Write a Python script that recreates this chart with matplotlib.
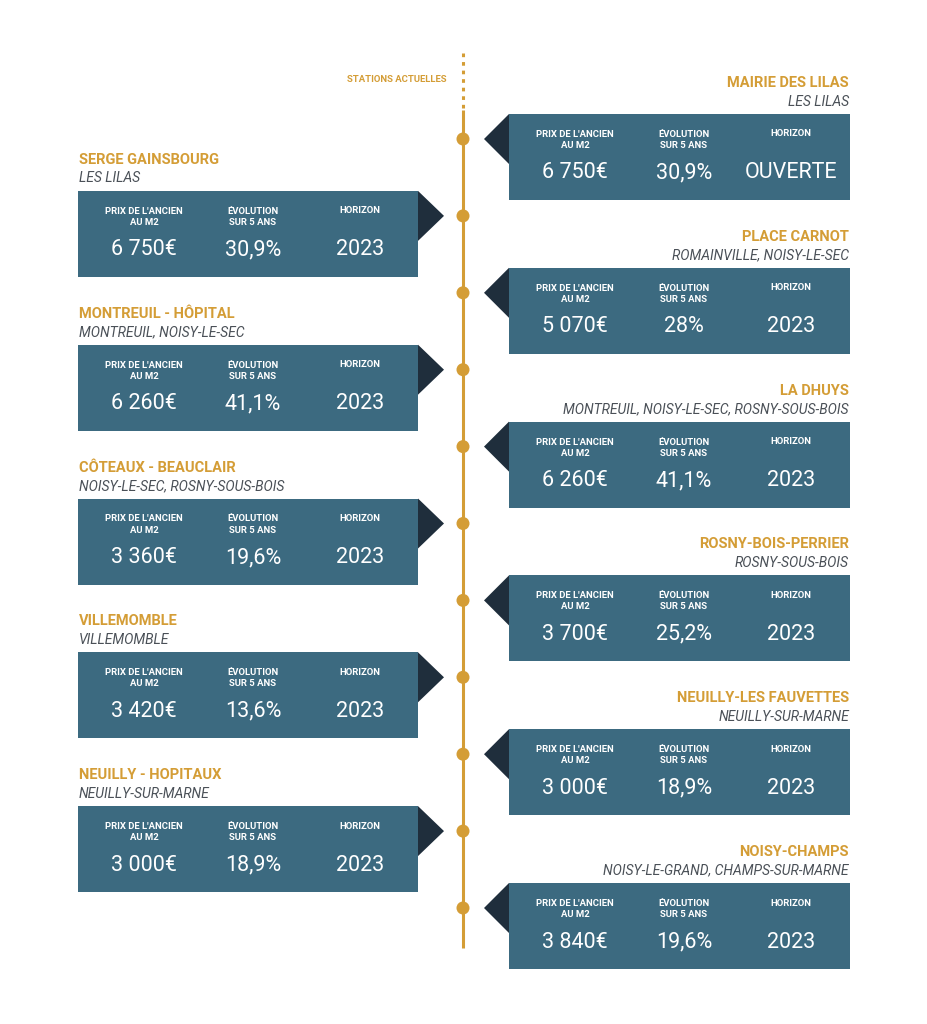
import matplotlib.pyplot as plt
from matplotlib.patches import Rectangle, Polygon, Circle

# station data, in order along the line (top to bottom)
stations = ['MAIRIE DES LILAS', 'SERGE GAINSBOURG', 'PLACE CARNOT', 'MONTREUIL - HÔPITAL',
            'LA DHUYS', 'CÔTEAUX - BEAUCLAIR', 'ROSNY-BOIS-PERRIER', 'VILLEMOMBLE',
            'NEUILLY-LES FAUVETTES', 'NEUILLY - HOPITAUX', 'NOISY-CHAMPS']
towns = ['LES LILAS', 'LES LILAS', 'ROMAINVILLE, NOISY-LE-SEC', 'MONTREUIL, NOISY-LE-SEC',
         'MONTREUIL, NOISY-LE-SEC, ROSNY-SOUS-BOIS', 'NOISY-LE-SEC, ROSNY-SOUS-BOIS',
         'ROSNY-SOUS-BOIS', 'VILLEMOMBLE', 'NEUILLY-SUR-MARNE', 'NEUILLY-SUR-MARNE',
         'NOISY-LE-GRAND, CHAMPS-SUR-MARNE']
prices = ['6 750€', '6 750€', '5 070€', '6 260€', '6 260€', '3 360€', '3 700€', '3 420€',
          '3 000€', '3 000€', '3 840€']
evolutions = ['30,9%', '30,9%', '28%', '41,1%', '41,1%', '19,6%', '25,2%', '13,6%',
              '18,9%', '18,9%', '19,6%']
horizons = ['OUVERTE', '2023', '2023', '2023', '2023', '2023', '2023', '2023',
            '2023', '2023', '2023']
sides = ['R', 'L', 'R', 'L', 'R', 'L', 'R', 'L', 'R', 'L', 'R']

GOLD = '#D49D36'
BOX = '#3C6A80'
DARK = '#1F2E3C'
GREY = '#4A5057'
FONT = 'Roboto'

fig = plt.figure(figsize=(9.28, 10.24), dpi=100)
ax = fig.add_axes([0, 0, 1, 1])
ax.set_xlim(0, 928)
ax.set_ylim(1024, 0)
ax.axis('off')

# timeline
LX = 463
ax.plot([LX, LX], [53, 108], color=GOLD, lw=2.2, linestyle=(0, (1.2, 1.6)))
ax.plot([LX, LX], [110, 948], color=GOLD, lw=2.2, solid_capstyle='butt')
ax.text(447, 79, 'STATIONS ACTUELLES', color=GOLD, fontsize=6.8, fontweight='bold',
        family=FONT, ha='right', va='center')

for i, name in enumerate(stations):
    top = 114 + i * 76.9
    h = 86
    if sides[i] == 'R':
        x0, x1 = 509, 850
        tri = [(x0, top), (484, top + 25), (x0, top + 50)]
        tx, ha = 849, 'right'
    else:
        x0, x1 = 78, 418
        tri = [(x1, top), (444, top + 25), (x1, top + 50)]
        tx, ha = 79, 'left'
    ax.add_patch(Rectangle((x0, top), x1 - x0, h, facecolor=BOX, edgecolor='none'))
    ax.add_patch(Polygon(tri, closed=True, facecolor=DARK, edgecolor='none'))
    ax.add_patch(Circle((LX, top + 25), 6.5, facecolor=GOLD, edgecolor='none', zorder=3))

    ax.text(tx, top - 31, name, color=GOLD, fontsize=10.5, fontweight='bold',
            family=FONT, ha=ha, va='center')
    ax.text(tx, top - 12.5, towns[i], color=GREY, fontsize=10, fontweight='normal',
            style='italic', family=FONT, ha=ha, va='center')

    heads = ["PRIX DE L'ANCIEN\nAU M2", 'ÉVOLUTION\nSUR 5 ANS', 'HORIZON']
    vals = [prices[i], evolutions[i], horizons[i]]
    for j, off in enumerate([66, 175, 282]):
        cx = x0 + off
        hy = top + 26 if j < 2 else top + 20
        ax.text(cx, hy, heads[j], color='white', fontsize=6.8, fontweight='bold',
                family=FONT, ha='center', va='center', linespacing=1.3)
        ax.text(cx, top + 59, vals[j], color='white', fontsize=15.5,
                family=FONT, ha='center', va='center')

fig.savefig('out.png', dpi=100, facecolor='white')
